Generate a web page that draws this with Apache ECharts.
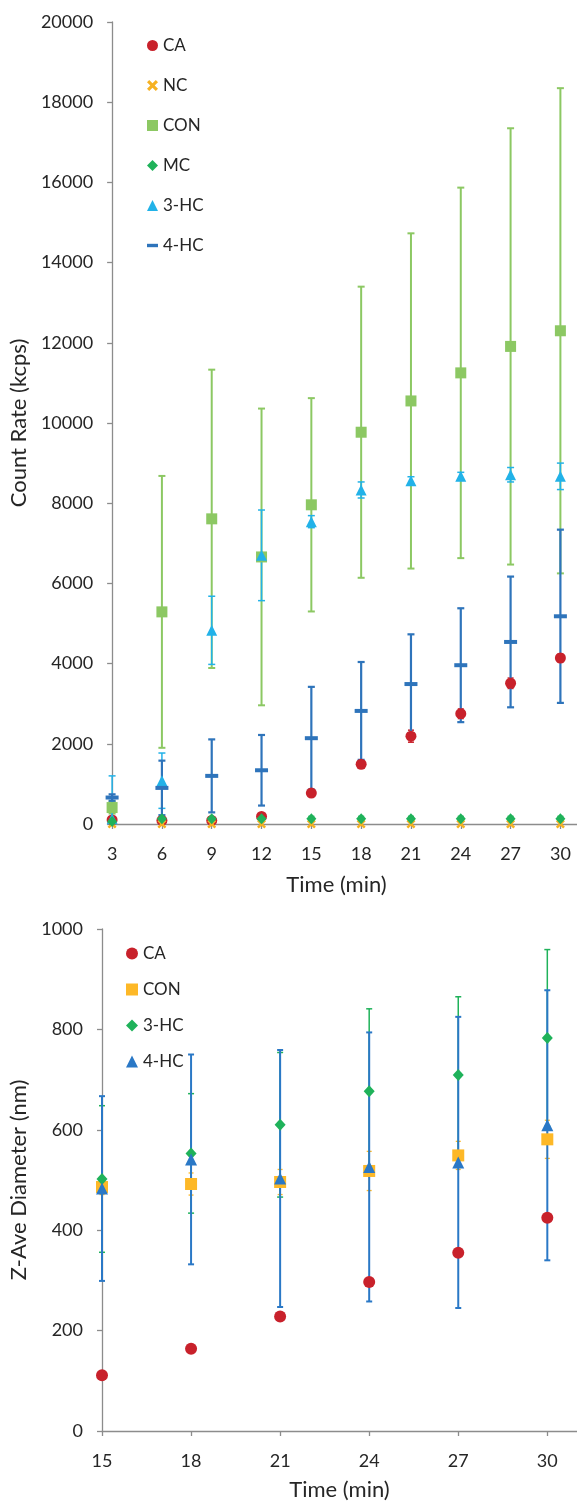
<!DOCTYPE html>
<html>
<head>
<meta charset="utf-8">
<script src="https://cdn.jsdelivr.net/npm/echarts@6/dist/echarts.min.js"></script>
<style>
html,body{margin:0;padding:0;background:#fff;}
#chart{width:577px;height:1502px;}
</style>
</head>
<body>
<div id="chart"></div>
<script>
// ---------- Top chart: Count Rate ----------
var timeTop = [3, 6, 9, 12, 15, 18, 21, 24, 27, 30];
var caRate    = [100, 90, 90, 190, 770, 1490, 2190, 2750, 3510, 4140];
var caRateErr = [40, 40, 40, 60, 60, 80, 150, 120, 130, 100];
var ncRate    = [0, 0, 0, 0, 0, 0, 0, 0, 0, 0];
var conRate    = [410, 5290, 7610, 6660, 7960, 9770, 10550, 11250, 11910, 12300];
var conRateErr = [150, 3390, 3720, 3700, 2660, 3630, 4180, 4620, 5440, 6050];
var mcRate    = [60, 130, 130, 130, 130, 130, 130, 130, 130, 130];
var mcRateErr = [30, 40, 40, 40, 60, 60, 60, 60, 60, 60];
var hc3Rate    = [130, 1080, 4830, 6700, 7540, 8330, 8560, 8670, 8710, 8670];
var hc3RateErr = [1070, 690, 850, 1130, 150, 200, 100, 100, 180, 330];
var hc4Rate    = [660, 900, 1200, 1340, 2140, 2820, 3490, 3960, 4540, 5180];
var hc4RateErr = [80, 680, 910, 880, 1280, 1220, 1240, 1420, 1630, 2160];
var topNames = ['CA', 'NC', 'CON', 'MC', '3-HC', '4-HC'];

// ---------- Bottom chart: Z-Ave Diameter ----------
var timeBot = [15, 18, 21, 24, 27, 30];
var caDia     = [111, 164, 228, 297, 355, 425];
var conDia    = [486, 492, 496, 518, 549, 581];
var conDiaErr = [15, 22, 25, 39, 28, 38];
var hc3Dia    = [502, 553, 610, 677, 709, 783];
var hc3DiaErr = [146, 119, 144, 164, 156, 176];
var hc4Dia    = [483, 541, 503, 526, 535, 609];
var hc4DiaErr = [184, 209, 256, 268, 290, 269];
var botNames = ['CA', 'CON', '3-HC', '4-HC'];

var FONT = 'Lato, "Open Sans", sans-serif';
var TXT = '#262626';
var AX = '#8c8c8c';

var C = {
  ca: '#c8212b', nc: '#f6b223', con: '#8cc863', mc: '#1fb25a',
  hc3: '#22b2e8', hc4: '#2e74bb',
  con2: '#fdb827', hc3b: '#1fb25a', hc4b: '#2a78c6'
};

var xPath = 'path://M2,0L5,3L8,0L10,2L7,5L10,8L8,10L5,7L2,10L0,8L3,5L0,2Z';
var dashPath = 'path://M0,0H13V4H0Z';

function pairs(xs, ys) { return xs.map(function (x, i) { return [x, ys[i]]; }); }
function triples(xs, ys, es) { return xs.map(function (x, i) { return [x, ys[i], es[i]]; }); }

function errSeries(xi, yi, data, color, width, cap, z) {
  return {
    type: 'custom', xAxisIndex: xi, yAxisIndex: yi, data: data, z: z || 2, silent: true,
    clip: false,
    renderItem: function (params, api) {
      var x = api.value(0), y = api.value(1), e = api.value(2);
      var lowVal = y - e, clipped = false;
      if (lowVal < 0) { lowVal = 0; clipped = true; }
      var hi = api.coord([x, y + e]);
      var lo = api.coord([x, lowVal]);
      var st = { stroke: color, lineWidth: width };
      var kids = [
        { type: 'line', shape: { x1: hi[0], y1: hi[1], x2: lo[0], y2: lo[1] }, style: st },
        { type: 'line', shape: { x1: hi[0] - cap, y1: hi[1], x2: hi[0] + cap, y2: hi[1] }, style: st }
      ];
      if (!clipped) kids.push({ type: 'line', shape: { x1: lo[0] - cap, y1: lo[1], x2: lo[0] + cap, y2: lo[1] }, style: st });
      return { type: 'group', children: kids };
    }
  };
}

function scat(name, xi, yi, data, symbol, size, color, z) {
  return {
    name: name, type: 'scatter', xAxisIndex: xi, yAxisIndex: yi, data: data,
    symbol: symbol, symbolSize: size, itemStyle: { color: color, opacity: 1 }, z: z || 5,
    emphasis: { disabled: true }
  };
}

function plain(v) { return String(v); }
var axisLabelY = { color: TXT, fontFamily: FONT, fontSize: 18, margin: 19, formatter: plain };
var axisLabelX = { color: TXT, fontFamily: FONT, fontSize: 18, margin: 21, formatter: plain };
var axisLineStyle = { show: true, lineStyle: { color: AX, width: 1.3 } };
var tickStyle = { show: true, inside: false, length: 5, lineStyle: { color: AX, width: 1.3 } };
var nameStyle = { color: TXT, fontFamily: FONT, fontSize: 22 };

var option = {
  animation: false,
  backgroundColor: '#fff',
  grid: [
    { left: 112, top: 22, width: 465, height: 802, containLabel: false },
    { left: 102, top: 929, width: 475, height: 502, containLabel: false }
  ],
  xAxis: [
    {
      type: 'value', gridIndex: 0, min: 3, max: 31,
      name: 'Time (min)', nameLocation: 'middle', nameGap: 50,
      nameTextStyle: Object.assign({ padding: [0, 16, 0, 0] }, nameStyle),
      axisLine: axisLineStyle, splitLine: { show: false },
      axisTick: Object.assign({ customValues: timeTop }, tickStyle),
      axisLabel: Object.assign({ customValues: timeTop }, axisLabelX)
    },
    {
      type: 'value', gridIndex: 1, min: 15, max: 31,
      name: 'Time (min)', nameLocation: 'middle', nameGap: 48, nameTextStyle: nameStyle,
      axisLine: axisLineStyle, splitLine: { show: false },
      axisTick: Object.assign({ customValues: timeBot }, tickStyle),
      axisLabel: Object.assign({ customValues: timeBot }, axisLabelX)
    }
  ],
  yAxis: [
    {
      type: 'value', gridIndex: 0, min: 0, max: 20000, interval: 2000,
      name: 'Count Rate (kcps)', nameLocation: 'middle', nameGap: 77, nameTextStyle: nameStyle,
      axisLine: axisLineStyle, axisTick: tickStyle, splitLine: { show: false },
      axisLabel: axisLabelY
    },
    {
      type: 'value', gridIndex: 1, min: 0, max: 1000, interval: 200,
      name: 'Z-Ave Diameter (nm)', nameLocation: 'middle', nameGap: 67, nameTextStyle: nameStyle,
      axisLine: axisLineStyle, axisTick: tickStyle, splitLine: { show: false },
      axisLabel: axisLabelY
    }
  ],
  legend: [
    {
      orient: 'vertical', left: 142, top: 32, itemWidth: 11, itemHeight: 11, itemGap: 23,
      textStyle: { color: TXT, fontFamily: FONT, fontSize: 17 },
      selectedMode: false,
      data: [
        { name: 'CA', icon: 'circle' },
        { name: 'NC', icon: xPath },
        { name: 'CON', icon: 'rect' },
        { name: 'MC', icon: 'diamond' },
        { name: '3-HC', icon: 'triangle' },
        { name: '4-HC', icon: dashPath }
      ]
    },
    {
      orient: 'vertical', left: 121, top: 940, itemWidth: 12, itemHeight: 12, itemGap: 19,
      textStyle: { color: TXT, fontFamily: FONT, fontSize: 17 },
      selectedMode: false,
      data: [
        { name: 'CA ', icon: 'circle' },
        { name: 'CON ', icon: 'rect' },
        { name: '3-HC ', icon: 'diamond' },
        { name: '4-HC ', icon: 'triangle' }
      ],
      formatter: function (n) { return n.trim(); }
    }
  ],
  series: [
    // top error bars
    errSeries(0, 0, triples(timeTop, conRate, conRateErr), C.con, 2, 3.5, 2),
    errSeries(0, 0, triples(timeTop, caRate, caRateErr), C.ca, 1.5, 3, 2),
    errSeries(0, 0, triples(timeTop, mcRate, mcRateErr), C.mc, 1.5, 3, 2),
    errSeries(0, 0, triples(timeTop, hc3Rate, hc3RateErr), C.hc3, 1.5, 3.5, 3),
    errSeries(0, 0, triples(timeTop, hc4Rate, hc4RateErr), C.hc4, 2.2, 3.5, 3),
    // top markers
    scat('CA', 0, 0, pairs(timeTop, caRate), 'circle', 11, C.ca, 6),
    scat('NC', 0, 0, pairs(timeTop, ncRate), xPath, 9, C.nc, 7),
    scat('CON', 0, 0, pairs(timeTop, conRate), 'rect', 11, C.con, 5),
    scat('MC', 0, 0, pairs(timeTop, mcRate), 'diamond', [10, 11], C.mc, 8),
    scat('3-HC', 0, 0, pairs(timeTop, hc3Rate), 'triangle', [11, 11], C.hc3, 6),
    scat('4-HC', 0, 0, pairs(timeTop, hc4Rate), 'rect', [13, 4], C.hc4, 7),
    // bottom error bars
    errSeries(1, 1, triples(timeBot, conDia, conDiaErr), C.con2, 1.3, 2.5, 2),
    errSeries(1, 1, triples(timeBot, hc3Dia, hc3DiaErr), C.hc3b, 1.5, 3, 2),
    errSeries(1, 1, triples(timeBot, hc4Dia, hc4DiaErr), C.hc4b, 2, 3, 3),
    // bottom markers
    scat('CA ', 1, 1, pairs(timeBot, caDia), 'circle', 12, C.ca, 6),
    scat('CON ', 1, 1, pairs(timeBot, conDia), 'rect', 12, C.con2, 5),
    scat('3-HC ', 1, 1, pairs(timeBot, hc3Dia), 'diamond', [11, 12], C.hc3b, 6),
    scat('4-HC ', 1, 1, pairs(timeBot, hc4Dia), 'triangle', [12, 12], C.hc4b, 7)
  ]
};

var chart = echarts.init(document.getElementById('chart'), null, { renderer: 'canvas' });
chart.setOption(option);
</script>
</body>
</html>
